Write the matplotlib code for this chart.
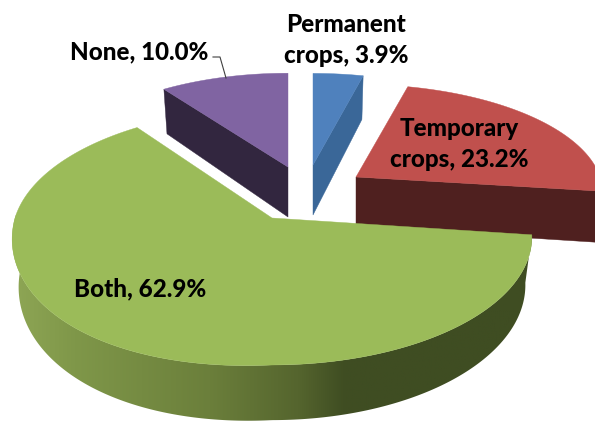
import numpy as np
import matplotlib
matplotlib.use("Agg")
import matplotlib.pyplot as plt
from matplotlib.patches import Polygon
from matplotlib.colors import LinearSegmentedColormap

# share of each slice, clockwise from 12 o'clock
names = ["Permanent\ncrops", "Temporary\ncrops", "Both", "None"]
values = [3.9, 23.2, 62.9, 10.0]

top_colors = ["#4f81bd", "#c0504d", "#9bbb59", "#8064a2"]
side_colors = ["#3a6798", "#4f201f", "#3f4d22", "#32263f"]

# screen position of the slice tip and scale of each slice
apex_x = [313, 356, 272, 288]
apex_y = [165, 177, 218, 167]
scale_x = [0.92, 0.95, 1.0, 0.92]
scale_y = [0.84, 0.85, 1.0, 0.86]
depth = [50, 50, 47, 50]
bulge = [0, 0, 15, 0]

# tilt of the pie
A, B, K = 257.0, 125.2, 0.148

edges = np.concatenate([[0], np.cumsum(values)]) / np.sum(values) * 2 * np.pi


def project(i, ang, r=1.0):
    u = r * np.sin(ang)
    v = r * np.cos(ang)
    w = 1 + K * v
    x = apex_x[i] + scale_x[i] * A * u / w
    y = apex_y[i] - scale_y[i] * B * v / w
    # front left of the big slice sits a bit lower in the original
    y = y + bulge[i] * np.clip(-u, 0, 1) * np.clip(-v, 0, 1)
    return x, y, w


def lower(i, x, w):
    # same points moved down by the thickness of the pie
    return apex_x[i] + 0.975 * (x - apex_x[i]), depth[i] / w


fig = plt.figure(figsize=(5.95, 4.21), dpi=100)
ax = fig.add_axes([0, 0, 1, 1])


def radial_wall(i, ang):
    x, y, w = project(i, ang)
    xb, d = lower(i, x, w)
    pts = [(apex_x[i], apex_y[i]), (x, y), (xb, y + d),
           (apex_x[i], apex_y[i] + depth[i])]
    ax.add_patch(Polygon(pts, closed=True, fc=side_colors[i], ec=side_colors[i], lw=0.3))


def top_face(i):
    a = np.linspace(edges[i], edges[i + 1], 200)
    x, y, w = project(i, a)
    pts = np.column_stack([np.r_[apex_x[i], x], np.r_[apex_y[i], y]])
    ax.add_patch(Polygon(pts, closed=True, fc=top_colors[i], ec=top_colors[i], lw=0.3))


# back slices first, Both goes over the red one
radial_wall(3, edges[3])
top_face(3)
radial_wall(0, edges[1])
top_face(0)
radial_wall(1, edges[2])
top_face(1)

# outer wall of Both with its shading
a = np.linspace(edges[2], np.radians(272), 300)
x, y, w = project(2, a)
xb, d = lower(2, x, w)
wall = Polygon(np.column_stack([np.r_[x, xb[::-1]], np.r_[y, (y + d)[::-1]]]),
               closed=True, fc="none", ec="none")
ax.add_patch(wall)
cmap = LinearSegmentedColormap.from_list(
    "wall", [(0, "#8ea655"), (0.12, "#7f9749"), (0.38, "#6b7f3b"), (0.55, "#55652e"),
             (0.64, "#3f4d22"), (1, "#3f4d22")])
im = ax.imshow(np.linspace(0, 1, 256)[None, :], extent=[12, 532, 421, 200],
               cmap=cmap, aspect="auto", zorder=1)
im.set_clip_path(wall)
top_face(2)
ax.patches[-1].set_zorder(2)

ax.set_xlim(0, 595)
ax.set_ylim(421, 0)
ax.axis("off")

# leader for the None label
ax.plot([213, 220, 226], [57, 57, 78], color="#404040", lw=0.8, zorder=3)

font = dict(family="Lato", fontweight=900, fontsize=17.4, color="black",
            ha="center", va="center", linespacing=1.45, zorder=4)
label_x = [346, 459, 140, 139]
label_y = [40, 144, 289, 52]
for i in range(4):
    ax.text(label_x[i], label_y[i], "%s, %.1f%%" % (names[i], values[i]), **font)

fig.savefig("out.png", dpi=100)
